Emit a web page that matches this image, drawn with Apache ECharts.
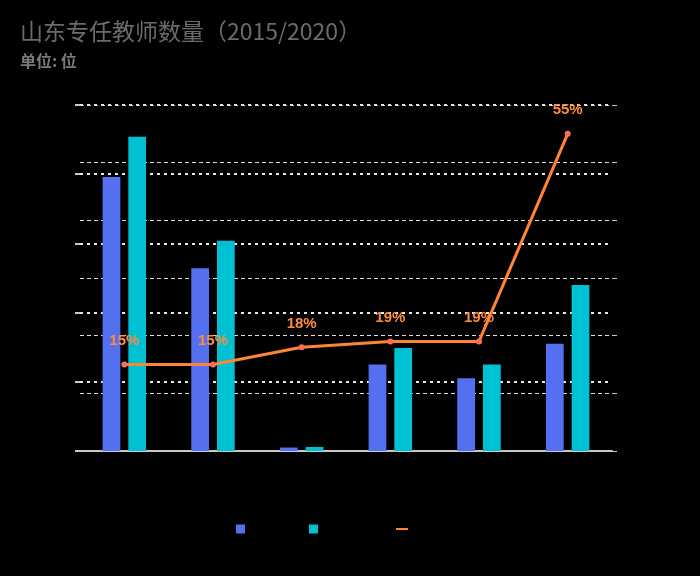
<!DOCTYPE html>
<html>
<head>
<meta charset="utf-8">
<script src="https://cdn.jsdelivr.net/npm/echarts@6/dist/echarts.min.js"></script>
<style>html,body{margin:0;padding:0;background:#000;}#c{width:700px;height:576px;}</style>
</head>
<body>
<div id="c"></div>
<script>
var categories = ['小学', '初中', '特殊教育', '普通高中', '中职', '幼儿园'];
var values2015 = [396000, 264000, 5000, 125000, 105000, 155000];
var values2020 = [454000, 304000, 5900, 149000, 125000, 240000];
var growthRate = [15, 15, 18, 19, 19, 55];
var seriesNames = ['2015年', '2020年', '增长率'];

var chart = echarts.init(document.getElementById('c'), null, {renderer: 'canvas'});
var option = {
  backgroundColor: '#000',
  animation: false,
  title: {
    text: '山东专任教师数量（2015/2020）',
    subtext: '单位: 位',
    left: 15,
    top: 15,
    itemGap: 10,
    textStyle: {color: '#6b6b6b', fontSize: 23, fontWeight: 'normal', fontFamily: 'Noto Sans CJK SC'},
    subtextStyle: {color: '#7a7a7a', fontSize: 16, fontWeight: 'bold', fontFamily: 'Noto Sans CJK SC'}
  },
  legend: [
    {data: [{name: seriesNames[0], itemStyle: {color: '#5470f0'}}], left: 231, top: 518, itemWidth: 9, itemHeight: 9, icon: 'rect', textStyle: {color: '#000', fontSize: 12}},
    {data: [{name: seriesNames[1], itemStyle: {color: '#00c1d4'}}], left: 304, top: 518, itemWidth: 9, itemHeight: 9, icon: 'rect', textStyle: {color: '#000', fontSize: 12}},
    {data: [{name: seriesNames[2], icon: 'path://M0,0 L12,0 L12,2 L0,2 Z', itemStyle: {color: '#ff8533'}}], left: 391, top: 518, itemWidth: 12, itemHeight: 9, textStyle: {color: '#000', fontSize: 12}}
  ],
  grid: {left: 80, right: 88, top: 105, bottom: 125},
  xAxis: {
    type: 'category',
    data: categories,
    axisLine: {lineStyle: {color: '#c8c8c8', width: 2}},
    axisTick: {alignWithLabel: true, length: 4, lineStyle: {color: '#c8c8c8'}},
    axisLabel: {color: '#000', fontSize: 12}
  },
  yAxis: [
    {
      type: 'value', min: 0, max: 500000, interval: 100000,
      axisLine: {show: false},
      axisTick: {show: true, length: 5, lineStyle: {color: '#c8c8c8', width: 2}},
      axisLabel: {color: '#000'},
      splitLine: {lineStyle: {color: '#e8e8e8', width: 2, type: [3, 4]}}
    },
    {
      type: 'value', min: 0, max: 60, interval: 10,
      axisLine: {show: false},
      axisTick: {show: true, length: 5, lineStyle: {color: '#c8c8c8', width: 1}},
      axisLabel: {color: '#000', formatter: '{value}%'},
      splitLine: {lineStyle: {color: '#dcdcdc', width: 1, type: [4, 3]}}
    }
  ],
  series: [
    {name: seriesNames[0], type: 'bar', data: values2015, barWidth: '20%', barGap: '45%', itemStyle: {color: '#5470f0'}},
    {name: seriesNames[1], type: 'bar', data: values2020, barWidth: '20%', barGap: '45%', itemStyle: {color: '#00c1d4'}},
    {
      name: seriesNames[2], type: 'line', yAxisIndex: 1, data: growthRate,
      symbol: 'circle', symbolSize: 6,
      lineStyle: {color: '#ff8533', width: 3},
      itemStyle: {color: '#ff6b5b'},
      label: {show: true, position: 'top', distance: 13, formatter: '{c}%', color: '#ff8c3a', fontSize: 15, fontWeight: 'bold'}
    }
  ]
};
chart.setOption(option);
</script>
</body>
</html>
